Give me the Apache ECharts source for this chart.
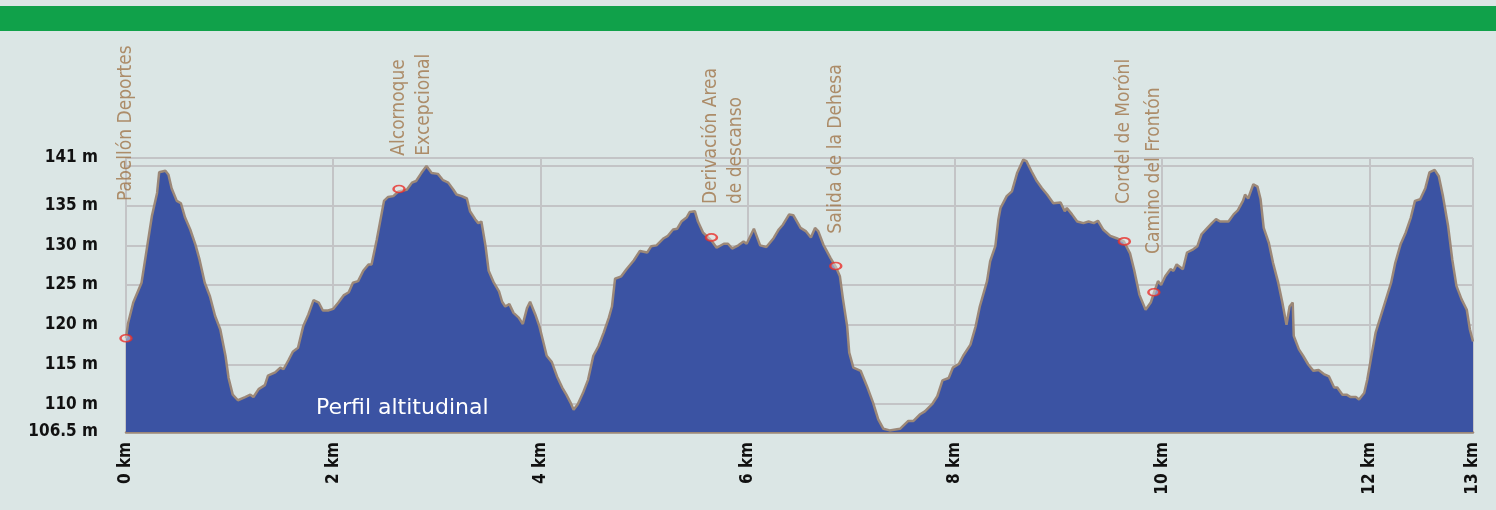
<!DOCTYPE html>
<html>
<head>
<meta charset="utf-8">
<script src="https://cdn.jsdelivr.net/npm/echarts@6/dist/echarts.min.js"></script>
<style>
  html, body { margin: 0; padding: 0; background: #dbe6e5; }
  #profile { width: 1496px; height: 510px; }
</style>
</head>
<body>
<div id="profile"></div>
<script>
// distance along the route (km) and altitude (m)
const KM = [
  0, 0.02, 0.07, 0.15, 0.20, 0.25, 0.30, 0.32, 0.38, 0.41, 0.44, 0.49, 0.53, 0.57, 0.62, 0.67,
  0.71, 0.76, 0.81, 0.86, 0.91, 0.96, 0.99, 1.03, 1.08, 1.15, 1.20, 1.23, 1.28, 1.34, 1.37, 1.44,
  1.49, 1.52, 1.57, 1.61, 1.66, 1.71, 1.76, 1.81, 1.86, 1.90, 1.95, 2.00, 2.05, 2.10, 2.15, 2.19,
  2.24, 2.29, 2.34, 2.37, 2.42, 2.45, 2.49, 2.53, 2.58, 2.63, 2.71, 2.76, 2.80, 2.85, 2.90, 2.95,
  3.01, 3.06, 3.11, 3.16, 3.19, 3.24, 3.29, 3.32, 3.37, 3.40, 3.43, 3.47, 3.50, 3.55, 3.60, 3.63,
  3.66, 3.70, 3.74, 3.79, 3.83, 3.87, 3.90, 3.95, 3.99, 4.03, 4.06, 4.11, 4.16, 4.21, 4.25, 4.29,
  4.32, 4.36, 4.41, 4.46, 4.51, 4.56, 4.61, 4.66, 4.69, 4.72, 4.78, 4.83, 4.90, 4.96, 5.03, 5.07,
  5.12, 5.19, 5.23, 5.28, 5.32, 5.36, 5.41, 5.44, 5.49, 5.52, 5.57, 5.65, 5.70, 5.77, 5.81, 5.85,
  5.91, 5.96, 5.99, 6.06, 6.12, 6.18, 6.25, 6.30, 6.34, 6.40, 6.44, 6.51, 6.56, 6.61, 6.65, 6.68,
  6.73, 6.80, 6.85, 6.89, 6.92, 6.96, 6.98, 7.02, 7.09, 7.15, 7.21, 7.26, 7.31, 7.37, 7.47, 7.55,
  7.60, 7.66, 7.71, 7.78, 7.83, 7.88, 7.94, 7.98, 8.04, 8.08, 8.15, 8.20, 8.24, 8.31, 8.34, 8.39,
  8.42, 8.44, 8.50, 8.55, 8.60, 8.66, 8.69, 8.74, 8.79, 8.84, 8.89, 8.95, 9.02, 9.06, 9.08, 9.13,
  9.18, 9.24, 9.29, 9.34, 9.38, 9.43, 9.50, 9.56, 9.63, 9.69, 9.73, 9.78, 9.84, 9.89, 9.92, 9.96,
  9.99, 10.03, 10.08, 10.11, 10.14, 10.20, 10.24, 10.30, 10.34, 10.38, 10.43, 10.48, 10.52, 10.56, 10.64, 10.69,
  10.73, 10.78, 10.80, 10.83, 10.88, 10.92, 10.95, 10.98, 11.03, 11.07, 11.12, 11.16, 11.20, 11.23, 11.26, 11.27,
  11.32, 11.36, 11.41, 11.46, 11.51, 11.56, 11.61, 11.66, 11.69, 11.74, 11.78, 11.82, 11.87, 11.90, 11.95, 11.98,
  12.02, 12.06, 12.11, 12.16, 12.21, 12.25, 12.30, 12.35, 12.40, 12.44, 12.49, 12.54, 12.58, 12.63, 12.67, 12.71,
  12.76, 12.80, 12.84, 12.89, 12.94, 12.97, 13.00
];
const ALTITUDE = [
  118.3, 120.2, 122.8, 125.3, 129.5, 133.7, 136.6, 139.2, 139.4, 138.9, 137.2, 135.6, 135.3, 133.5, 132.0, 130.1,
  128.2, 125.3, 123.6, 121.1, 119.4, 116.1, 113.3, 111.2, 110.5, 110.9, 111.2, 110.9, 111.9, 112.4, 113.6, 114.0,
  114.6, 114.4, 115.6, 116.6, 117.1, 119.8, 121.3, 123.1, 122.8, 121.8, 121.8, 122.0, 122.8, 123.7, 124.1, 125.3,
  125.5, 126.8, 127.6, 127.6, 130.7, 132.8, 135.6, 136.1, 136.2, 136.8, 137.0, 137.9, 138.1, 139.1, 140.0, 139.1,
  139.0, 138.2, 137.9, 137.0, 136.4, 136.2, 135.9, 134.3, 133.3, 132.8, 133.0, 129.9, 126.8, 125.3, 124.2, 122.9,
  122.3, 122.6, 121.5, 120.9, 120.1, 122.1, 122.9, 121.3, 119.8, 117.7, 116.1, 115.3, 113.5, 112.1, 111.2, 110.2,
  109.3, 110.0, 111.4, 113.1, 116.1, 117.3, 119.0, 120.9, 122.3, 125.8, 126.1, 127.0, 128.1, 129.3, 129.1, 129.9,
  130.0, 130.9, 131.2, 132.0, 132.1, 133.0, 133.5, 134.2, 134.3, 133.0, 131.6, 130.6, 129.7, 130.2, 130.2, 129.6,
  130.0, 130.5, 130.2, 132.1, 130.0, 129.8, 130.9, 132.0, 132.6, 133.9, 133.8, 132.2, 131.8, 131.0, 132.2, 131.8,
  130.1, 128.4, 127.3, 126.1, 123.2, 119.8, 116.5, 114.6, 114.2, 112.3, 110.2, 108.1, 106.9, 106.7, 106.9, 107.9,
  107.9, 108.7, 109.1, 110.0, 111.0, 113.0, 113.3, 114.6, 115.1, 116.1, 117.5, 119.8, 122.3, 125.5, 128.0, 129.9,
  133.3, 134.7, 136.2, 136.8, 139.1, 140.8, 140.6, 139.3, 138.1, 137.2, 136.4, 135.3, 135.4, 134.3, 134.7, 133.9,
  133.0, 132.8, 133.0, 132.8, 133.1, 132.0, 131.2, 130.9, 130.5, 129.0, 126.9, 123.8, 121.9, 122.8, 124.0, 125.5,
  125.0, 126.1, 127.0, 126.8, 127.6, 127.0, 129.1, 129.5, 129.9, 131.4, 132.1, 132.8, 133.3, 133.0, 133.0, 133.9,
  134.4, 135.6, 136.4, 135.9, 137.7, 137.4, 135.8, 132.2, 130.3, 127.8, 125.3, 122.8, 120.0, 122.3, 122.8, 118.6,
  116.9, 116.1, 115.0, 114.2, 114.3, 113.8, 113.5, 112.1, 112.1, 111.2, 111.2, 110.9, 110.9, 110.6, 111.4, 113.1,
  116.1, 119.0, 121.1, 123.2, 125.3, 127.8, 130.1, 131.6, 133.5, 135.6, 135.8, 137.2, 139.2, 139.5, 138.7, 136.2,
  132.4, 128.2, 124.9, 123.2, 121.9, 119.4, 117.9
];

// waypoints along the route
const WAYPOINT_NAMES = [
  'Pabellón Deportes',
  'Alcornoque\nExcepcional',
  'Derivación Area\nde descanso',
  'Salida de la Dehesa',
  'Cordel de Morónl',
  'Camino del Frontón'
];
const WAYPOINT_KM = [0, 2.635, 5.65, 6.85, 9.635, 9.92];
const WAYPOINT_ALT = [118.3, 137.1, 131.0, 127.4, 130.5, 124.1];
const WAYPOINT_GAP = [133, 29, 29, 28, 33, 34];

// axis ticks
const KM_TICKS = [0, 2, 4, 6, 8, 10, 12, 13];
const ALT_LABELS = [106.5, 110, 115, 120, 125, 130, 135, 141];
const ALT_GRID = [110, 115, 120, 125, 130, 135, 140, 141];

const chart = echarts.init(document.getElementById('profile'));

const profile = KM.map((km, i) => [km, ALTITUDE[i]]);
const waypoints = WAYPOINT_NAMES.map((name, i) => {
  const twoLines = name.indexOf('\n') >= 0;
  return {
    name: name,
    value: [WAYPOINT_KM[i], WAYPOINT_ALT[i]],
    label: {
      distance: WAYPOINT_GAP[i],
      // first line sits over the marker, second line beside it
      offset: twoLines ? [0, 12.5] : [0, 0]
    }
  };
});

chart.setOption({
  backgroundColor: '#dbe6e5',
  animation: false,
  graphic: [
    { type: 'rect', shape: { x: 0, y: 6, width: 1496, height: 25 }, style: { fill: '#10a14a' } }
  ],
  title: {
    text: 'Perfil altitudinal',
    left: 316,
    top: 397,
    padding: 0,
    textStyle: { color: '#ffffff', fontSize: 22, fontWeight: 'normal', fontFamily: 'DejaVu Sans' }
  },
  grid: { left: 126, right: 23, top: 158, bottom: 78 },
  xAxis: {
    type: 'value',
    min: 0,
    max: 13,
    axisLine: { show: true, lineStyle: { color: '#9c8878', width: 2.5 } },
    axisTick: { show: false, customValues: KM_TICKS },
    axisLabel: {
      customValues: KM_TICKS,
      formatter: '{value} km',
      rotate: 90,
      margin: 10,
      color: '#111',
      fontWeight: 'bold',
      fontSize: 17,
      fontFamily: 'DejaVu Sans Condensed'
    },
    splitLine: { show: true, lineStyle: { color: '#c3c4c6', width: 2 } }
  },
  yAxis: {
    type: 'value',
    min: 106.5,
    max: 141,
    axisLine: { show: true, lineStyle: { color: '#c3c4c6', width: 2 } },
    axisTick: { show: false, customValues: ALT_GRID },
    axisLabel: {
      customValues: ALT_LABELS,
      formatter: '{value} m',
      margin: 28,
      color: '#111',
      fontWeight: 'bold',
      fontSize: 17,
      fontFamily: 'DejaVu Sans Condensed'
    },
    splitLine: { show: true, lineStyle: { color: '#c3c4c6', width: 2 } }
  },
  series: [
    {
      type: 'line',
      data: profile,
      showSymbol: false,
      smooth: false,
      lineStyle: { color: '#9c8878', width: 2.5 },
      areaStyle: { color: '#3b53a3', opacity: 1, origin: 'start' },
      z: 2
    },
    {
      type: 'scatter',
      data: waypoints,
      symbol: 'circle',
      symbolSize: [11, 7],
      itemStyle: { color: 'rgba(230,230,230,0.6)', borderColor: '#e8302a', borderWidth: 2 },
      label: {
        show: true,
        formatter: '{b}',
        position: 'top',
        rotate: 90,
        align: 'left',
        verticalAlign: 'middle',
        color: '#a0764a',
        fontSize: 19,
        lineHeight: 25,
        fontFamily: 'DejaVu Sans Condensed'
      },
      z: 5
    }
  ]
});
</script>
</body>
</html>
